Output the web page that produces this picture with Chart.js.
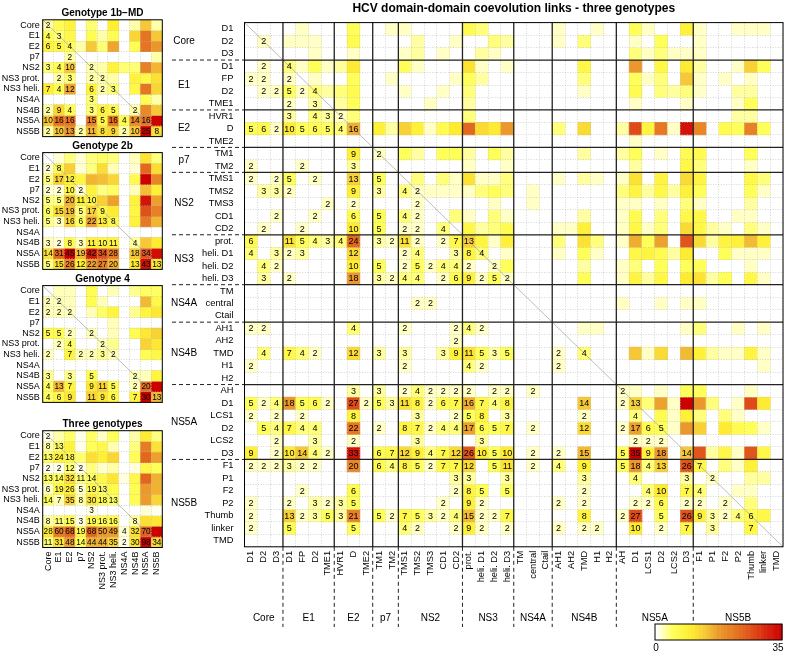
<!DOCTYPE html>
<html>
<head>
<meta charset="utf-8">
<script src="https://cdn.jsdelivr.net/npm/chart.js@4.4.1/dist/chart.umd.min.js"></script>
<style>
  body { margin: 0; background: #fff; width: 787px; height: 651px; position: relative; overflow: hidden; }
  canvas { position: absolute; left: 0; top: 0; }
</style>
</head>
<body>
<canvas id="mainChart" width="787" height="651"></canvas>
<canvas id="g1bChart" width="787" height="651"></canvas>
<canvas id="g2bChart" width="787" height="651"></canvas>
<canvas id="g4Chart" width="787" height="651"></canvas>
<canvas id="threeChart" width="787" height="651"></canvas>
<script>
// sub-domain labels of the big matrix (rows = columns)
const subDomains = ['D1', 'D2', 'D3', 'D1', 'FP', 'D2', 'TME1', 'HVR1', 'D', 'TME2', 'TM1', 'TM2',
    'TMS1', 'TMS2', 'TMS3', 'CD1', 'CD2', 'prot.', 'heli. D1', 'heli. D2', 'heli. D3', 'TM', 'central', 'Ctail',
    'AH1', 'AH2', 'TMD', 'H1', 'H2', 'AH', 'D1', 'LCS1', 'D2', 'LCS2', 'D3', 'F1', 'P1', 'F2', 'P2', 'Thumb', 'linker', 'TMD'];
const proteins = ['Core', 'E1', 'E2', 'p7', 'NS2', 'NS3', 'NS4A', 'NS4B', 'NS5A', 'NS5B'];
const proteinSizes = [3, 4, 3, 2, 5, 4, 3, 5, 6, 7];

// lower triangle (incl. diagonal) of the three-genotype domain links
const mainLinks = [
    [0],
    [0, 2],
    [0, 0, 0],
    [0, 2, 0, 4],
    [2, 2, 0, 2, 0],
    [0, 2, 2, 5, 2, 4],
    [0, 0, 0, 2, 0, 3, 0],
    [0, 0, 0, 3, 0, 4, 3, 2],
    [5, 6, 2, 10, 5, 6, 5, 4, 16],
    [0, 0, 0, 0, 0, 0, 0, 0, 0, 0],
    [0, 0, 0, 0, 0, 0, 0, 0, 9, 0, 2],
    [2, 0, 0, 0, 2, 0, 0, 0, 3, 0, 0, 0],
    [2, 0, 2, 5, 0, 2, 0, 0, 13, 0, 5, 0, 0],
    [0, 3, 3, 2, 0, 0, 0, 0, 9, 0, 3, 0, 4, 2],
    [0, 0, 0, 0, 0, 0, 2, 0, 2, 0, 0, 0, 0, 2, 0],
    [0, 0, 2, 0, 0, 2, 0, 0, 6, 0, 5, 0, 4, 2, 0, 0],
    [0, 2, 0, 0, 2, 0, 0, 0, 10, 0, 5, 0, 2, 2, 0, 4, 0],
    [6, 0, 0, 11, 5, 4, 3, 4, 24, 0, 3, 2, 11, 2, 0, 2, 7, 13],
    [4, 0, 3, 2, 3, 0, 0, 0, 12, 0, 0, 0, 2, 4, 0, 0, 3, 8, 4],
    [0, 4, 2, 0, 0, 0, 0, 0, 10, 0, 5, 0, 2, 5, 2, 4, 4, 2, 0, 2],
    [0, 3, 0, 2, 0, 0, 0, 0, 18, 0, 3, 2, 4, 4, 0, 2, 6, 9, 2, 5, 2],
    [0, 0, 0, 0, 0, 0, 0, 0, 0, 0, 0, 0, 0, 0, 0, 0, 0, 0, 0, 0, 0, 0],
    [0, 0, 0, 0, 0, 0, 0, 0, 0, 0, 0, 0, 0, 2, 2, 0, 0, 0, 0, 0, 0, 0, 0],
    [0, 0, 0, 0, 0, 0, 0, 0, 0, 0, 0, 0, 0, 0, 0, 0, 0, 0, 0, 0, 0, 0, 0, 0],
    [2, 2, 0, 0, 0, 0, 0, 0, 4, 0, 0, 0, 2, 0, 0, 0, 2, 4, 2, 0, 0, 0, 0, 0, 0],
    [0, 0, 0, 0, 0, 0, 0, 0, 0, 0, 0, 0, 0, 0, 0, 0, 2, 0, 0, 0, 0, 0, 0, 0, 0, 0],
    [0, 4, 0, 7, 4, 2, 0, 0, 12, 0, 3, 0, 3, 0, 0, 3, 9, 11, 5, 3, 5, 0, 0, 0, 2, 0, 4],
    [2, 0, 0, 0, 0, 0, 0, 0, 0, 0, 0, 0, 2, 0, 0, 0, 0, 4, 2, 0, 0, 0, 0, 0, 2, 0, 0, 0],
    [0, 0, 0, 0, 0, 0, 0, 0, 0, 0, 0, 0, 0, 0, 0, 0, 0, 0, 0, 0, 0, 0, 0, 0, 0, 0, 0, 0, 0],
    [0, 0, 0, 0, 0, 0, 0, 0, 3, 0, 3, 0, 2, 4, 2, 2, 2, 2, 0, 2, 2, 0, 2, 0, 0, 0, 0, 0, 0, 2],
    [5, 2, 4, 18, 5, 6, 2, 0, 27, 2, 5, 3, 11, 8, 2, 6, 7, 16, 7, 4, 8, 0, 0, 0, 0, 0, 14, 0, 0, 2, 13],
    [2, 0, 2, 0, 2, 0, 0, 0, 8, 0, 0, 0, 0, 3, 0, 0, 2, 5, 8, 0, 3, 0, 0, 0, 0, 0, 2, 0, 0, 0, 4, 0],
    [0, 5, 4, 7, 4, 4, 0, 0, 22, 0, 2, 0, 8, 7, 2, 4, 4, 17, 6, 5, 7, 0, 2, 0, 0, 0, 12, 0, 0, 2, 17, 6, 5],
    [0, 0, 2, 0, 0, 3, 0, 0, 2, 0, 0, 0, 0, 3, 0, 0, 0, 0, 3, 0, 0, 0, 0, 0, 0, 0, 0, 0, 0, 0, 2, 2, 2, 0],
    [9, 0, 2, 10, 14, 4, 2, 0, 33, 0, 6, 7, 12, 9, 4, 7, 12, 26, 10, 5, 10, 0, 2, 0, 2, 0, 15, 0, 0, 5, 35, 9, 18, 0, 14],
    [2, 2, 2, 3, 2, 2, 0, 0, 20, 0, 6, 4, 8, 5, 2, 7, 7, 12, 0, 5, 11, 0, 2, 0, 4, 0, 9, 0, 0, 5, 18, 4, 13, 0, 26, 7],
    [0, 0, 0, 0, 0, 0, 0, 0, 0, 0, 0, 0, 0, 0, 0, 0, 3, 3, 0, 0, 3, 0, 0, 0, 0, 0, 3, 0, 0, 0, 4, 0, 0, 0, 3, 0, 2],
    [0, 0, 0, 0, 2, 0, 0, 0, 6, 0, 0, 0, 0, 0, 0, 0, 2, 8, 5, 0, 5, 0, 0, 0, 0, 0, 2, 0, 0, 0, 0, 4, 10, 0, 7, 4, 0, 0],
    [2, 0, 0, 2, 0, 3, 2, 3, 5, 0, 0, 0, 0, 0, 0, 2, 0, 9, 2, 0, 0, 0, 0, 0, 2, 0, 2, 0, 0, 0, 2, 2, 6, 0, 2, 2, 0, 2, 0],
    [2, 0, 0, 13, 2, 3, 5, 3, 21, 0, 5, 2, 7, 5, 3, 2, 4, 15, 2, 2, 7, 0, 0, 0, 0, 0, 8, 0, 0, 2, 27, 0, 5, 0, 26, 9, 3, 2, 4, 6],
    [2, 0, 0, 5, 0, 0, 0, 0, 5, 0, 0, 0, 4, 2, 0, 0, 2, 9, 2, 0, 2, 0, 0, 0, 2, 0, 2, 2, 0, 0, 10, 0, 2, 0, 7, 0, 3, 0, 0, 7, 0],
    [0, 0, 0, 0, 0, 0, 0, 0, 0, 0, 0, 0, 0, 0, 0, 0, 0, 0, 0, 0, 0, 0, 0, 0, 0, 0, 0, 0, 0, 0, 0, 0, 0, 0, 0, 0, 0, 0, 0, 0, 0, 0]
];

// protein-level matrices (lower triangle incl. diagonal)
const proteinLabels = ['Core', 'E1', 'E2', 'p7', 'NS2', 'NS3 prot.', 'NS3 heli.', 'NS4A', 'NS4B', 'NS5A', 'NS5B'];
const links1b = [
    [2], [4, 3], [6, 5, 4], [0, 0, 2, 0], [3, 4, 10, 0, 2], [0, 2, 3, 0, 2, 2],
    [7, 4, 12, 0, 6, 2, 3], [0, 0, 0, 0, 3, 0, 0, 0], [2, 9, 4, 0, 3, 6, 5, 0, 2],
    [10, 16, 16, 0, 15, 5, 16, 4, 14, 16], [2, 10, 13, 2, 11, 8, 9, 2, 10, 25, 8]
];
const links2b = [
    [0], [2, 8], [5, 17, 12], [2, 2, 10, 2], [5, 5, 20, 11, 10], [6, 15, 19, 5, 17, 9],
    [5, 3, 16, 6, 22, 13, 8], [0, 0, 0, 0, 0, 0, 0, 0], [3, 2, 8, 3, 11, 10, 11, 0, 4],
    [14, 31, 45, 19, 42, 34, 28, 0, 18, 34], [5, 15, 26, 12, 22, 27, 20, 0, 13, 43, 13]
];
const links4 = [
    [0], [2, 2], [2, 2, 2], [0, 0, 0, 0], [5, 5, 2, 0, 2], [0, 2, 4, 0, 0, 2],
    [2, 0, 7, 2, 2, 3, 2], [0, 0, 0, 0, 0, 0, 0, 0], [3, 0, 3, 0, 5, 0, 0, 0, 2],
    [4, 13, 7, 0, 9, 11, 5, 0, 2, 20], [4, 6, 9, 0, 11, 9, 6, 0, 7, 30, 13]
];
const linksAll = [
    [2], [8, 13], [13, 24, 18], [2, 2, 12, 2], [13, 14, 32, 11, 14], [6, 19, 26, 5, 19, 13],
    [14, 7, 35, 8, 30, 18, 13], [0, 0, 0, 0, 3, 0, 0, 0], [8, 11, 15, 3, 19, 16, 16, 0, 8],
    [28, 60, 68, 19, 68, 50, 49, 4, 32, 70], [11, 31, 48, 14, 44, 44, 35, 2, 30, 98, 34]
];

const W = 787, H = 651;
const FONT = '"Liberation Sans", Arial, Helvetica, sans-serif';

const colorStops = [
    [0, [255, 255, 255]], [0.06, [255, 255, 195]], [0.14, [255, 255, 90]], [0.28, [255, 238, 50]],
    [0.4, [246, 200, 55]], [0.5, [236, 155, 45]], [0.7, [226, 100, 30]], [0.86, [218, 45, 18]], [1, [205, 0, 0]]
];

function heatColor(v, max) {
    if (!v) return 'rgba(255,255,255,0)';
    const t = Math.min(1, v / max);
    for (let i = 1; i < colorStops.length; i++) {
        const [t1, c1] = colorStops[i];
        const [t0, c0] = colorStops[i - 1];
        if (t <= t1) {
            const f = (t - t0) / (t1 - t0);
            const c = c0.map((x, k) => Math.round(x + (c1[k] - x) * f));
            return `rgb(${c[0]},${c[1]},${c[2]})`;
        }
    }
    return 'rgb(205,0,0)';
}

function symmetric(lower) {
    return lower.map((row, r) => lower.map((_, c) => (c <= r ? lower[r][c] : lower[c][r])));
}

function drawOverlay(chart, o, full) {
    const ctx = chart.ctx;
    const xs = chart.scales.x, ys = chart.scales.y, a = chart.chartArea;
    const n = full.length;
    const half = (xs.getPixelForValue(1) - xs.getPixelForValue(0)) / 2;
    const colEdge = c => xs.getPixelForValue(Math.min(c, n - 1)) + (c >= n ? half : -half);
    const seg = (x1, y1, x2, y2) => { ctx.beginPath(); ctx.moveTo(x1, y1); ctx.lineTo(x2, y2); ctx.stroke(); };

    ctx.save();
    // diagonal
    ctx.strokeStyle = '#a0a0a0';
    ctx.lineWidth = 0.7;
    seg(a.left, a.top, a.right, a.bottom);

    // protein blocks
    if (o.groups) {
        let acc = 0;
        const bounds = [];
        o.groups.sizes.forEach(s => { acc += s; bounds.push(acc); });
        bounds.pop();
        ctx.strokeStyle = '#222';
        ctx.lineWidth = 1.3;
        bounds.forEach(b => {
            const px = colEdge(b), py = ys.getPixelForValue(b);
            seg(px, a.top, px, a.bottom);
            seg(a.left, py, a.right, py);
        });
        ctx.setLineDash([4, 3]);
        ctx.lineWidth = 1;
        bounds.forEach(b => {
            const px = colEdge(b), py = ys.getPixelForValue(b);
            seg(172, py, a.left, py);
            seg(px, a.bottom, px, 627);
        });
        ctx.setLineDash([]);
        // protein names
        ctx.fillStyle = '#000';
        ctx.font = '10px ' + FONT;
        ctx.textAlign = 'center';
        ctx.textBaseline = 'middle';
        let start = 0;
        o.groups.sizes.forEach((s, i) => {
            const mid = start + s / 2;
            ctx.fillText(o.groups.names[i], 184, ys.getPixelForValue(mid));
            ctx.fillText(o.groups.names[i], (colEdge(start) + colEdge(start + s)) / 2, 618);
            start += s;
        });
    }

    // frame
    ctx.strokeStyle = '#000';
    ctx.lineWidth = 1;
    ctx.strokeRect(a.left, a.top, a.right - a.left, a.bottom - a.top);

    // counts in the lower triangle
    ctx.fillStyle = '#000';
    ctx.font = o.numFont + ' ' + FONT;
    ctx.textAlign = 'center';
    ctx.textBaseline = 'middle';
    for (let r = 0; r < n; r++) {
        for (let c = 0; c <= r; c++) {
            const v = full[r][c];
            if (v > 0) ctx.fillText(String(v), xs.getPixelForValue(c), ys.getPixelForValue(r + 0.5) + 0.5);
        }
    }

    // row labels
    ctx.font = o.labelFont + ' ' + FONT;
    ctx.textAlign = 'right';
    o.rows.forEach((lab, r) => ctx.fillText(lab, a.left - o.labelGap, ys.getPixelForValue(r + 0.5)));

    // column labels
    if (o.showCols) {
        o.rows.forEach((lab, c) => {
            ctx.save();
            ctx.translate(xs.getPixelForValue(c), a.bottom + 4);
            ctx.rotate(-Math.PI / 2);
            ctx.textAlign = 'right';
            ctx.fillText(lab, 0, 0);
            ctx.restore();
        });
    }

    // title
    ctx.font = o.titleFont + ' ' + FONT;
    ctx.textAlign = 'center';
    ctx.fillText(o.title, (a.left + a.right) / 2, o.titleY);

    // colour key
    if (o.colorKey) {
        const k = o.colorKey;
        const steps = o.max;
        const w = (k.x2 - k.x1) / steps;
        for (let i = 0; i < steps; i++) {
            ctx.fillStyle = i === 0 ? '#fff' : heatColor(i + 0.5, o.max);
            ctx.fillRect(k.x1 + i * w, k.y1, w + 0.5, k.y2 - k.y1);
        }
        ctx.strokeStyle = '#000';
        ctx.lineWidth = 1;
        ctx.strokeRect(k.x1, k.y1, k.x2 - k.x1, k.y2 - k.y1);
        ctx.fillStyle = '#000';
        ctx.font = '10px ' + FONT;
        ctx.fillText('0', k.x1 + 1, k.y2 + 8);
        ctx.fillText(String(o.max), k.x2 - 4, k.y2 + 8);
    }
    ctx.restore();
}

function makeHeatmap(id, o) {
    const full = symmetric(o.lower);
    const n = full.length;
    const datasets = full.map((row, r) => ({
        data: row.map(() => [r, r + 1]),
        backgroundColor: row.map(v => heatColor(v, o.max)),
        borderWidth: 0,
        barPercentage: 1,
        categoryPercentage: 1,
        grouped: false
    }));
    const grid = { offset: true, color: '#b9b9b9', lineWidth: 0.6, drawTicks: false, z: 1 };
    const border = { display: false, dash: [1, 1.6] };
    return new Chart(document.getElementById(id), {
        type: 'bar',
        data: { labels: o.rows.map((r, i) => i), datasets },
        options: {
            responsive: false,
            animation: false,
            events: [],
            layout: { padding: { left: o.area[0], top: o.area[1], right: W - o.area[2], bottom: H - o.area[3] } },
            plugins: { legend: { display: false }, tooltip: { enabled: false } },
            scales: {
                x: {
                    offset: true, grid, border,
                    ticks: { display: false, autoSkip: false },
                    afterFit: s => { s.height = 0; }
                },
                y: {
                    min: 0, max: n, reverse: true,
                    grid: { ...grid, offset: false }, border,
                    ticks: { display: false, stepSize: 1, maxTicksLimit: 1000 },
                    afterFit: s => { s.width = 0; }
                }
            }
        },
        plugins: [{ id: 'heatOverlay', afterDraw: chart => drawOverlay(chart, o, full) }]
    });
}

makeHeatmap('mainChart', {
    lower: mainLinks, rows: subDomains, max: 35,
    area: [244.5, 22.6, 783, 546.8],
    numFont: '9px', labelFont: '9.3px', labelGap: 11, showCols: true,
    title: 'HCV domain-domain coevolution links - three genotypes', titleFont: 'bold 12px', titleY: 9,
    groups: { names: proteins, sizes: proteinSizes },
    colorKey: { x1: 655, y1: 624, x2: 782, y2: 640 }
});

const smallPanels = [
    ['g1bChart', links1b, 'Genotype 1b\u2212MD', 19.8, 136.6, 13, false],
    ['g2bChart', links2b, 'Genotype 2b', 152.6, 269.4, 146, false],
    ['g4Chart', links4, 'Genotype 4', 285.6, 402.4, 279, false],
    ['threeChart', linksAll, 'Three genotypes', 430.7, 547.5, 424, true]
];
smallPanels.forEach(([id, lower, title, top, bottom, titleY, showCols]) => {
    makeHeatmap(id, {
        lower, rows: proteinLabels, max: Math.max(...lower.flat()),
        area: [42.7, top, 162.3, bottom],
        numFont: '8.3px', labelFont: '9px', labelGap: 3, showCols,
        title, titleFont: 'bold 10px', titleY
    });
});
</script>
</body>
</html>
